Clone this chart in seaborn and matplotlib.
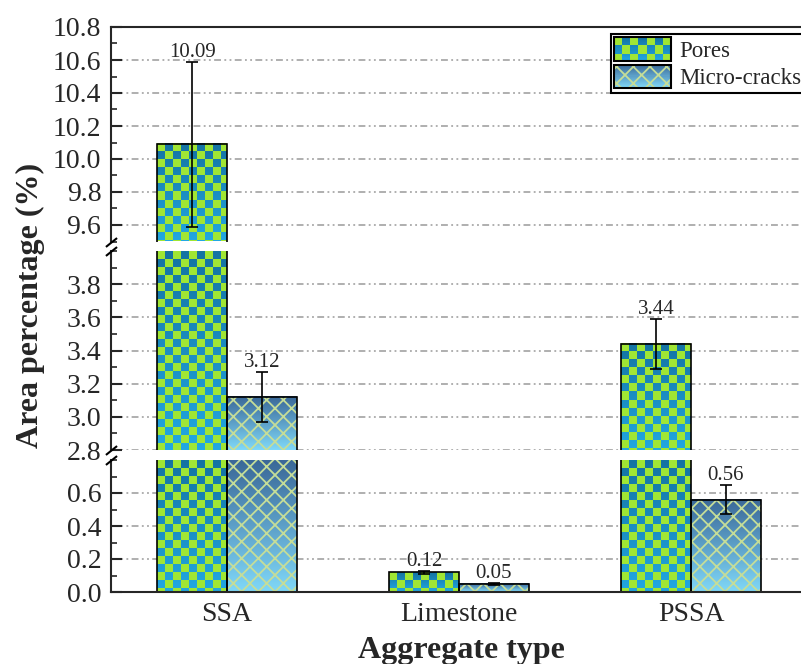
import numpy as np
import pandas as pd
import matplotlib
matplotlib.use("Agg")
import matplotlib.pyplot as plt
import seaborn as sns
from matplotlib.patches import Rectangle, Patch
from matplotlib.ticker import MultipleLocator, FixedLocator, FormatStrFormatter
from matplotlib.legend_handler import HandlerBase
from matplotlib.image import BboxImage
from matplotlib.transforms import Bbox, TransformedBbox
from matplotlib.colors import to_rgb

# ---------------- data ----------------
categories = ["SSA", "Limestone", "PSSA"]
series = ["Pores", "Micro-cracks"]
pores = [10.09, 0.12, 3.44]
pores_err = [0.50, 0.01, 0.15]
cracks = [3.12, 0.05, 0.56]
cracks_err = [0.15, 0.006, 0.09]

# broken-axis segments (top, middle, bottom)
seg_limits = [(9.5, 10.8), (2.8, 4.0), (0.0, 0.8)]
top_ticks = [9.6, 9.8, 10.0, 10.2, 10.4, 10.6, 10.8]
mid_ticks = [2.8, 3.0, 3.2, 3.4, 3.6, 3.8]
low_ticks = [0.0, 0.2, 0.4, 0.6]
seg_ticks = [top_ticks, mid_ticks, low_ticks]

values = [pores, cracks]
errors = [pores_err, cracks_err]

df = pd.DataFrame({
    "category": categories * 2,
    "series": [series[0]] * 3 + [series[1]] * 3,
    "value": pores + cracks,
})

# ---------------- style ----------------
sns.set_style("ticks")
plt.rcParams["font.family"] = ["Liberation Serif", "DejaVu Serif"]
plt.rcParams["hatch.linewidth"] = 1.3
plt.rcParams["axes.linewidth"] = 1.5

GREEN = np.array(to_rgb("#a0e634"))
PBLUE_DARK = np.array(to_rgb("#1473a2"))
PBLUE_LIGHT = np.array(to_rgb("#22a8e2"))
CBLUE_DARK = np.array(to_rgb("#3a6898"))
CBLUE_LIGHT = np.array(to_rgb("#80d8f8"))
HATCH_COLOR = "#c5dd98"
HATCH = "xx"


def checker_img(nrows, ncols, cell=8):
    nrows = max(int(nrows), 1)
    ncols = max(int(ncols), 1)
    i = np.arange(nrows)[:, None]
    j = np.arange(ncols)[None, :]
    t = (i / max(nrows - 1, 1))[..., None]
    blue = PBLUE_DARK * (1 - t) + PBLUE_LIGHT * t
    blue = np.broadcast_to(blue, (nrows, ncols, 3))
    mask = ((i // cell + j // cell) % 2 == 0)[..., None]
    return np.where(mask, GREEN, blue)


def gradient_img(nrows, ncols=2):
    nrows = max(int(nrows), 2)
    t = np.linspace(0, 1, nrows)[:, None, None]
    g = CBLUE_DARK * (1 - t) + CBLUE_LIGHT * t
    return np.broadcast_to(g, (nrows, ncols, 3)).copy()


W, H, DPI = 8.01, 6.64, 100
fig = plt.figure(figsize=(W, H), dpi=DPI)

left = 111 / 801
width = 696 / 801
px_top = [27, 251, 460]
px_bot = [241.5, 450, 592]
axes = []
for k in range(3):
    b = 1 - px_bot[k] / 664
    h = (px_bot[k] - px_top[k]) / 664
    axes.append(fig.add_axes([left, b, width, h]))

grid_ls = (0, (4.5, 2.2, 1.2, 2.2, 1.2, 2.2))

for k, ax in enumerate(axes):
    lo, hi = seg_limits[k]
    sns.barplot(data=df, x="category", y="value", hue="series",
                hue_order=series, order=categories, width=0.6,
                palette=["#a0e634", "#3a6898"], saturation=1,
                errorbar=None, legend=False, ax=ax)
    bar_conts = list(ax.containers)
    ax_h_px = (px_bot[k] - px_top[k])
    ppu_y = ax_h_px / (hi - lo)
    ppu_x = 696 / 3.0

    for s_idx, cont in enumerate(bar_conts):
        for rect in cont.patches:
            x0 = rect.get_x()
            w = rect.get_width()
            hgt = rect.get_height()
            vb = max(lo, 0.0)
            vt = min(hi, hgt)
            if vt > vb:
                nrows = round((vt - vb) * ppu_y)
                ncols = round(w * ppu_x)
                if s_idx == 0:
                    img = checker_img(nrows, ncols)
                    interp = "nearest"
                else:
                    img = gradient_img(nrows)
                    interp = "bilinear"
                ax.imshow(img, extent=(x0, x0 + w, vb, vt), aspect="auto",
                          interpolation=interp, zorder=1, origin="upper")
            if s_idx == 1:
                ax.add_patch(Rectangle((x0, 0), w, hgt, facecolor="none",
                                       edgecolor=HATCH_COLOR, hatch=HATCH,
                                       lw=0, zorder=1.5))
            rect.set_facecolor("none")
            rect.set_edgecolor("black")
            rect.set_linewidth(1.2)
            rect.set_zorder(2)

        centers = [r.get_x() + r.get_width() / 2 for r in cont.patches]
        ax.errorbar(centers, values[s_idx], yerr=errors[s_idx], fmt="none",
                    ecolor="black", elinewidth=1.2, capsize=4.3,
                    capthick=1.2, zorder=4)
        for c, v, e in zip(centers, values[s_idx], errors[s_idx]):
            top = v + e
            if lo <= top <= hi:
                ax.annotate(f"{v:.2f}", xy=(c, top), xytext=(0, 3.5),
                            textcoords="offset points", ha="center",
                            va="baseline", fontsize=15, zorder=5)

    ax.set_xlim(-0.5, 2.5)
    ax.set_ylim(lo, hi)
    ax.yaxis.set_major_locator(FixedLocator(seg_ticks[k]))
    ax.yaxis.set_minor_locator(MultipleLocator(0.1))
    ax.yaxis.set_major_formatter(FormatStrFormatter("%.1f"))
    ax.tick_params(axis="y", which="major", direction="in", length=8,
                   width=1.5, labelsize=20, pad=7, left=True, right=False)
    ax.tick_params(axis="y", which="minor", direction="in", length=4,
                   width=1.2, left=True, right=False)
    ax.set_axisbelow(True)
    ax.yaxis.grid(True, which="major", color="#9a9a9a", lw=1.1,
                  linestyle=grid_ls)
    ax.xaxis.grid(False)
    ax.set_xlabel("")
    ax.set_ylabel("")
    for sp in ["left", "right", "top", "bottom"]:
        ax.spines[sp].set_linewidth(1.5)
    ax.spines["right"].set_visible(False)
    if k != 0:
        ax.spines["top"].set_visible(False)
    if k != 2:
        ax.spines["bottom"].set_visible(False)
        ax.tick_params(axis="x", bottom=False, labelbottom=False)
    else:
        ax.tick_params(axis="x", length=0, labelsize=20, pad=7)

    # break marks on the left spine
    kw = dict(marker=[(-1, -0.8), (1, 0.8)], markersize=8, linestyle="none",
              color="k", mec="k", mew=1.5, clip_on=False,
              transform=ax.transAxes, zorder=10)
    if k != 0:
        ax.plot([0], [1], **kw)
    if k != 2:
        ax.plot([0], [0], **kw)


# ---------------- legend with textured handles ----------------
class TextureHandler(HandlerBase):
    def __init__(self, kind):
        super().__init__()
        self.kind = kind

    def create_artists(self, legend, orig_handle, xdescent, ydescent,
                       width, height, fontsize, trans):
        bb = TransformedBbox(Bbox.from_bounds(-xdescent, -ydescent,
                                              width, height), trans)
        img = BboxImage(bb, interpolation="nearest")
        nr = int(round(height * DPI / 72))
        nc = int(round(width * DPI / 72))
        if self.kind == "checker":
            img.set_data(checker_img(nr, nc))
        else:
            img.set_data(gradient_img(nr, nc))
        arts = [img]
        if self.kind != "checker":
            arts.append(Rectangle((-xdescent, -ydescent), width, height,
                                  facecolor="none", edgecolor=HATCH_COLOR,
                                  hatch=HATCH, lw=0, transform=trans))
        arts.append(Rectangle((-xdescent, -ydescent), width, height,
                              facecolor="none", edgecolor="black", lw=1.5,
                              transform=trans))
        return arts


h_pores = Patch(label=series[0])
h_cracks = Patch(label=series[1])
leg = fig.legend(handles=[h_pores, h_cracks], labels=series,
                 loc="upper left", bbox_to_anchor=(611 / 801, 1 - 34 / 664),
                 bbox_transform=fig.transFigure, borderaxespad=0,
                 handler_map={h_pores: TextureHandler("checker"),
                              h_cracks: TextureHandler("cracks")},
                 fontsize=16.5, handlelength=2.45, handleheight=1.2,
                 handletextpad=0.4, labelspacing=0.12, borderpad=0.15,
                 fancybox=False, framealpha=1, edgecolor="black")
leg.get_frame().set_linewidth(1.5)

# axis titles
fig.text(30 / 801, 1 - 305 / 664, "Area percentage (%)", rotation=90,
         ha="center", va="center", fontsize=23, fontweight="bold")
fig.text(461 / 801, 1 - 658 / 664, "Aggregate type", ha="center",
         va="baseline", fontsize=23, fontweight="bold")

fig.savefig("out.png", dpi=DPI)
